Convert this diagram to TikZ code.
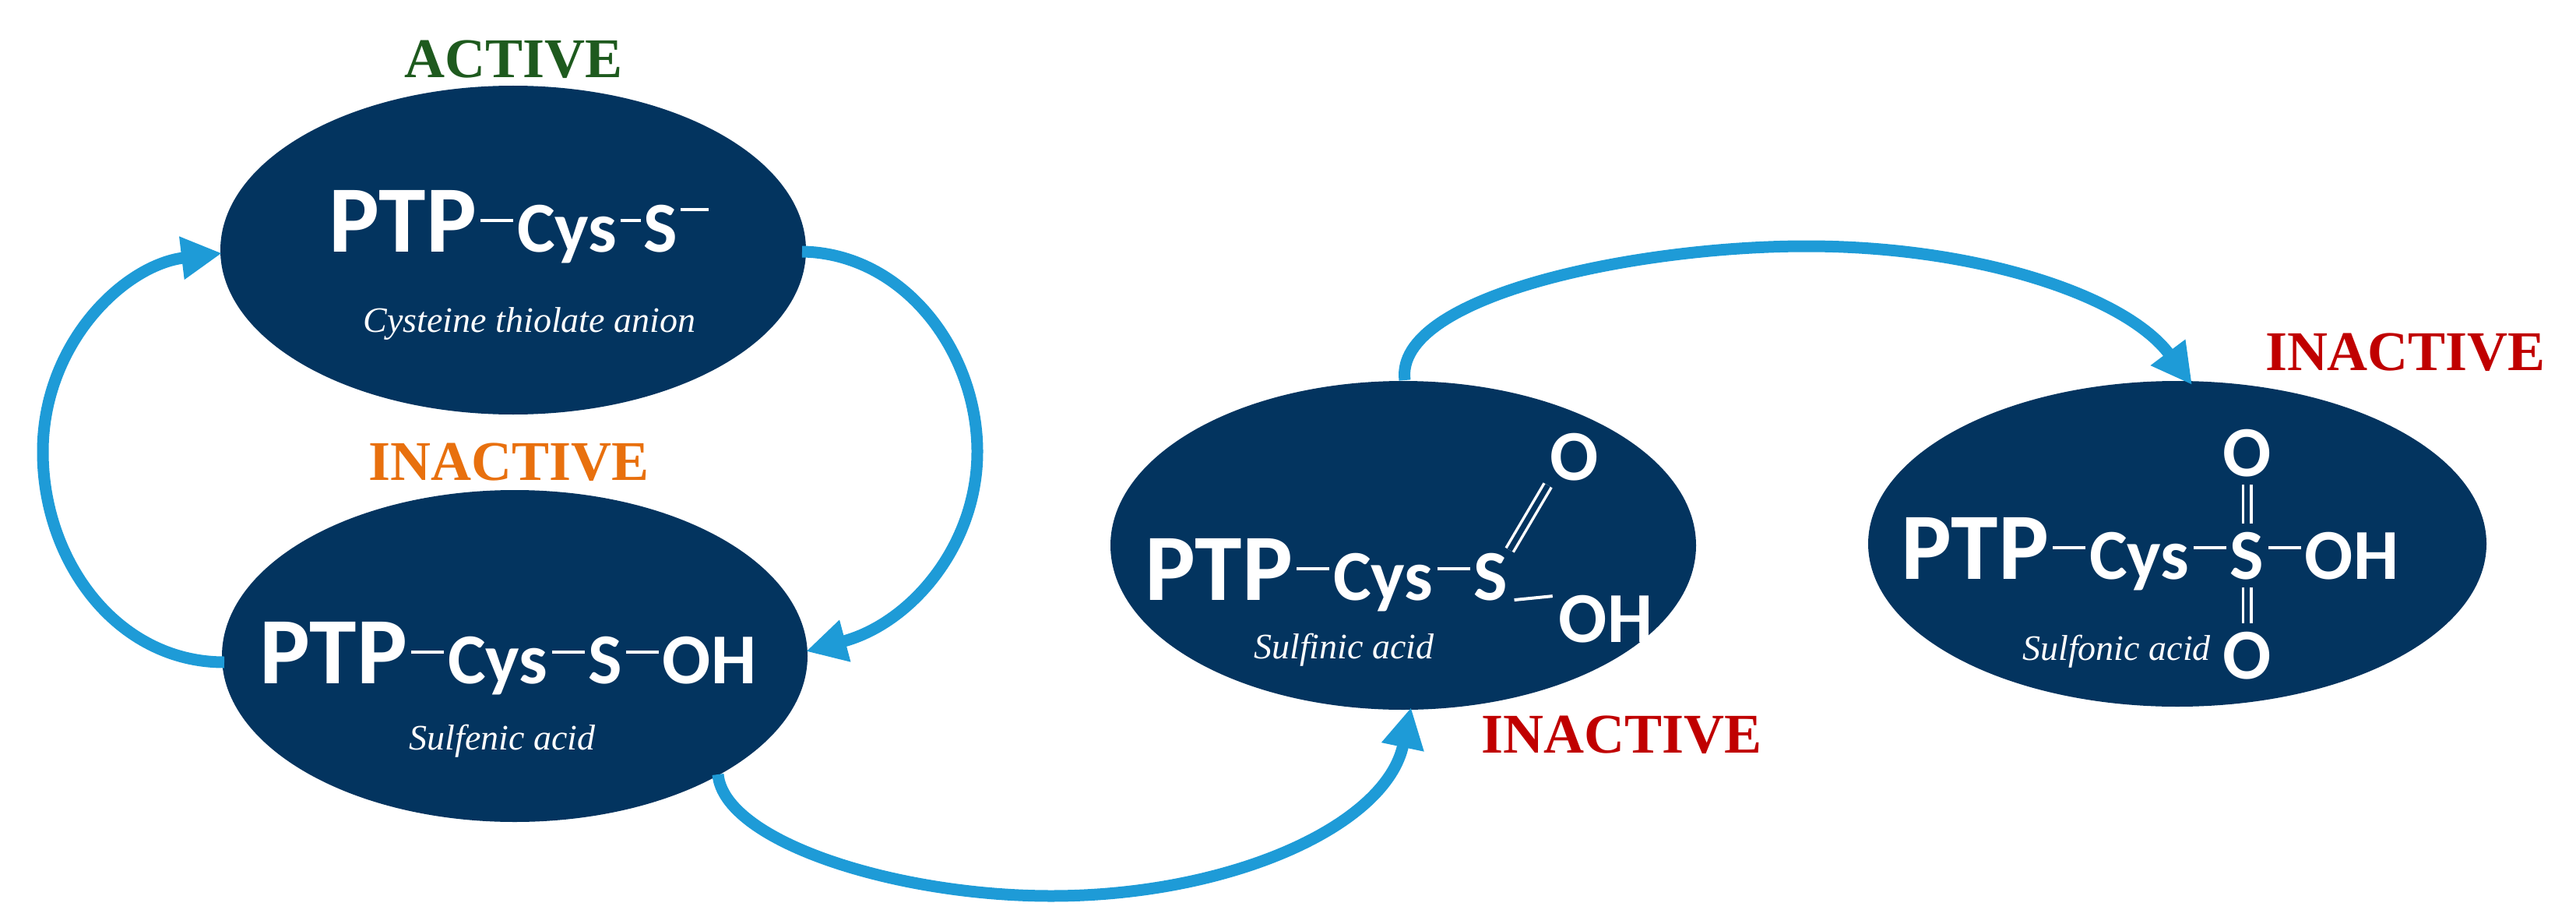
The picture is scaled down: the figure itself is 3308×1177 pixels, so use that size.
\documentclass[tikz,border=0pt]{standalone}
\usepackage{fontspec}
\setmainfont{Liberation Serif}
\newfontfamily\formfont{Carlito}
\usetikzlibrary{arrows.meta,shapes.geometric}
\definecolor{navy}{HTML}{03345F}
\definecolor{arrowblue}{HTML}{1E9BD7}
\definecolor{actgreen}{HTML}{1E5A1E}
\definecolor{inorange}{HTML}{E8700E}
\definecolor{inred}{HTML}{C00000}
\newcommand{\bigP}{\fontsize{122}{124}\selectfont}
\newcommand{\smP}{\fontsize{92}{94}\selectfont}
\newcommand{\bnd}{\kern5pt\rule[38pt]{42pt}{4.5pt}\kern5pt}
\newcommand{\bndsh}{\kern4pt\rule[38pt]{26pt}{4.5pt}\kern4pt}
\begin{document}
\begin{tikzpicture}[x=1pt,y=-1pt,
  blob/.style={ellipse,fill=navy,inner sep=0pt},
  form/.style={text=white,font=\formfont\bfseries\smP,inner sep=0pt,anchor=base west},
  sub/.style={text=white,font=\itshape\fontsize{46}{48}\selectfont,inner sep=0pt},
  lab/.style={font=\bfseries\fontsize{72}{74}\selectfont,inner sep=0pt},
  flow/.style={arrowblue,line width=15pt,-{Triangle[length=52pt,width=52pt]}},
  bondw/.style={white,line width=4pt},
  dbond/.style={white,line width=3.5pt,double=navy,double distance=7pt}]
\useasboundingbox (0,0) rectangle (3308,1177);
% ellipses
\node[blob,minimum width=752pt,minimum height=422pt] (e1) at (659,321) {};
\node[blob,minimum width=752pt,minimum height=426pt] (e2) at (661,842) {};
\node[blob,minimum width=752pt,minimum height=422pt] (e3) at (1802,700) {};
\node[blob,minimum width=794pt,minimum height=418pt] (e4) at (2796,698) {};
% labels
\node[lab,text=actgreen] (l1) at (660,76) {ACTIVE};
\node[lab,text=inorange] (l2) at (654,593) {INACTIVE};
\node[lab,text=inred] (l3) at (2083,943) {INACTIVE};
\node[lab,text=inred] (l4) at (3089,452) {INACTIVE};
% formula 1
\node[form] (f1) at (422,323) {{\bigP PTP}\bnd Cys\bndsh S\raisebox{52pt}{\kern4pt\rule{36pt}{4.5pt}}};
\node[sub] (s1) at (680,416) {Cysteine thiolate anion};
% formula 2
\node[form] (f2) at (333,877) {{\bigP PTP}\bnd Cys\bnd S\bnd OH};
\node[sub] (s2) at (645,951) {Sulfenic acid};
% formula 3
\node[form] (f3) at (1470,770) {{\bigP PTP}\bnd Cys\bnd};
\node[form] (sx3) at (f3.base east) {S};
\node[form,anchor=center] (o3) at (2022,587) {O};
\node[form,anchor=center] (oh3) at (2062,795) {OH};
\draw[dbond,shorten <=4pt,shorten >=6pt] (sx3.north east) -- (o3.south west);
\draw[bondw,shorten <=8pt,shorten >=8pt] (sx3.south east) -- (oh3.north west);
\node[sub] (s3) at (1726,834) {Sulfinic acid};
% formula 4
\node[form] (f4) at (2441,743) {{\bigP PTP}\bnd Cys\bnd};
\node[form] (sx4) at (f4.base east) {S};
\node[form] (oh4) at (sx4.base east) {\bnd OH};
\node[form,anchor=center] (o4a) at ([yshift=132pt]sx4.center) {O};
\node[form,anchor=center] (o4b) at ([yshift=-128pt]sx4.center) {O};
\draw[dbond,shorten <=10pt,shorten >=10pt] (sx4.north) -- (o4a.south);
\draw[dbond,shorten <=10pt,shorten >=10pt] (sx4.south) -- (o4b.north);
\node[sub] (s4) at (2718,836) {Sulfonic acid};
% arrows
\coordinate (a1s) at (1030,323);
\coordinate (a1e) at (1035,836);
\coordinate (a2s) at (288,850);
\coordinate (a2e) at (285,325);
\coordinate (a3s) at (922,994);
\coordinate (a3e) at (1812,908);
\coordinate (a4s) at (1804,488);
\coordinate (a4e) at (2815,494);
\draw[flow] (a1s) .. controls (1160,325) and (1255,450) .. (1255,580) .. controls (1255,700) and (1170,800) .. (a1e);
\draw[flow] (a2s) .. controls (150,850) and (55,720) .. (55,580) .. controls (55,440) and (160,340) .. (a2e);
\draw[flow] (a3s) .. controls (930,1080) and (1150,1150) .. (1350,1150) .. controls (1580,1150) and (1780,1060) .. (a3e);
\draw[flow] (a4s) .. controls (1790,380) and (2100,316) .. (2320,316) .. controls (2540,316) and (2730,380) .. (a4e);
\end{tikzpicture}
\end{document}
